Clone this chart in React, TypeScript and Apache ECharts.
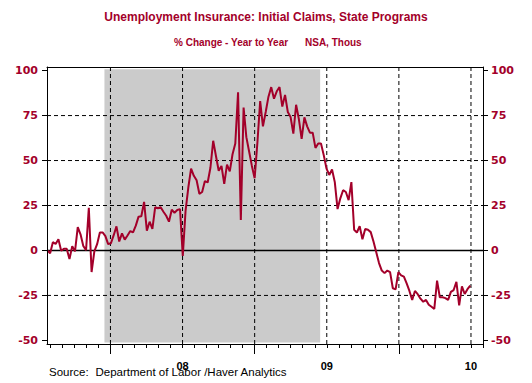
import React, { useEffect, useRef } from "react";
import * as echarts from "echarts";

// x is measured in months after 1 Jan 2007 (12 = Jan 2008, 24 = Jan 2009, 36 = Jan 2010)
const FIRST_WEEK = 6.75; // first weekly observation, late July 2007
const WEEK = 7 / 30.4375; // one week, in months

// Initial claims, state programs, NSA: % change year to year (weekly)
const claimsYoY: number[] = [
  0, -1.5, 4.6, 3.6, 6.2, -0.2, 1, 1, -4.8, 2.4,
  -0.5, 13, 9, 2.5, 0.2, 23.7, -12, -0.5, 3.5, 10,
  10, 8, 3.5, 4, 8.5, 13.4, 5, 9.5, 6, 8.3,
  10.8, 10, 13.8, 18.8, 19, 27, 11, 16, 12, 24,
  23.5, 24, 21.5, 19.3, 16, 22.6, 21, 22.5, 23, -3,
  22, 35, 45.5, 41.5, 39, 31.5, 32.5, 38.6, 37.8, 46,
  61, 52.5, 44.3, 47, 37, 47.7, 44, 53.5, 59.5, 88,
  17, 79.5, 63, 55, 47, 40.2, 60, 83, 69, 77,
  85.5, 90.8, 84.4, 88.5, 90.8, 80, 86.5, 77, 74.2, 65,
  81, 73, 62, 74, 69, 65.5, 65.5, 57, 59.5, 59.5,
  53, 45.5, 42, 45, 38, 23, 29, 33.5, 32.5, 28,
  38, 11.5, 10, 13.5, 6.2, 12, 11.5, 10.2, 5, -1,
  -7, -11.2, -12.6, -11.2, -12, -21, -21.6, -12, -13.8, -14.5,
  -18.3, -22.5, -27.5, -22.5, -24.3, -26.8, -28.5, -27.5, -30.2, -31.3,
  -32.5, -16.8, -26, -26, -26.5, -27.5, -23, -22, -17.5, -30.5,
  -20, -24.2, -21.5, -19.5,
];

const X_MIN = 6.72;
const X_MAX = 43;
const Y_MIN = -52;
const Y_MAX = 102;

const yTickValues = [-50, -25, 0, 25, 50, 75, 100];
const yDashed = [-25, 25, 50, 75];
const xDashed = [12, 18, 24, 30, 36, 42];
const monthTicks = [
  7, 8, 9, 10, 11, 12, 13, 14, 15, 16, 17, 18, 19, 20, 21, 22, 23, 24, 25,
  26, 27, 28, 29, 30, 31, 32, 33, 34, 35, 36, 37, 38, 39, 40, 41, 42, 43,
];
const yearTicks = [12, 24, 36];
const yearLabelAt = [18, 30, 42];
const yearLabels = ["08", "09", "10"];
const recession = [11.5, 29.45]; // Dec 2007 - Jun 2009

const CRIMSON = "#a3002a";

export default function App() {
  const ref = useRef<HTMLDivElement>(null);

  useEffect(() => {
    if (!ref.current) return;
    const chart = echarts.init(ref.current, undefined, { renderer: "svg" });

    const gridBox = { left: 47, right: 49, top: 67, bottom: 39, containLabel: false };
    const black = { color: "#000", width: 1 };

    const dashedSeries: any[] = [];
    yDashed.forEach((v) =>
      dashedSeries.push({
        type: "line",
        xAxisIndex: 0,
        yAxisIndex: 0,
        data: [
          [X_MIN, v],
          [X_MAX, v],
        ],
        symbol: "none",
        silent: true,
        z: 2,
        lineStyle: { color: "#000", width: 1, type: [4, 3] },
      })
    );
    xDashed.forEach((m) =>
      dashedSeries.push({
        type: "line",
        xAxisIndex: 0,
        yAxisIndex: 0,
        data: [
          [m, Y_MIN],
          [m, Y_MAX],
        ],
        symbol: "none",
        silent: true,
        z: 2,
        lineStyle: { color: "#000", width: 1, type: [4, 3] },
      })
    );

    const option: any = {
      animation: false,
      backgroundColor: "#fff",
      grid: [gridBox, { ...gridBox }],
      xAxis: [
        {
          gridIndex: 0,
          type: "value",
          min: X_MIN,
          max: X_MAX,
          position: "bottom",
          z: 10,
          axisLine: { show: true, onZero: false, lineStyle: black },
          axisTick: { show: true, customValues: monthTicks, length: 4, lineStyle: black },
          axisLabel: {
            show: true,
            customValues: yearLabelAt,
            formatter: (v: number) => {
              const k = yearLabelAt.findIndex((a) => Math.abs(a - v) < 0.01);
              return k >= 0 ? yearLabels[k] : "";
            },
            margin: 16,
            color: "#000",
            fontFamily: "Liberation Sans",
            fontWeight: "bold",
            fontSize: 11,
          },
          splitLine: { show: false },
        },
        {
          gridIndex: 0,
          type: "value",
          min: X_MIN,
          max: X_MAX,
          position: "top",
          z: 10,
          axisLine: { show: true, onZero: false, lineStyle: black },
          axisTick: { show: false },
          axisLabel: { show: false },
          splitLine: { show: false },
        },
        {
          gridIndex: 1,
          type: "value",
          min: X_MIN,
          max: X_MAX,
          position: "bottom",
          z: 10,
          axisLine: { show: false, onZero: false },
          axisTick: { show: true, customValues: yearTicks, length: 10, lineStyle: black },
          axisLabel: { show: false },
          splitLine: { show: false },
        },
      ],
      yAxis: [
        {
          gridIndex: 0,
          type: "value",
          min: Y_MIN,
          max: Y_MAX,
          position: "left",
          z: 10,
          axisLine: { show: true, onZero: false, lineStyle: black },
          axisTick: { show: true, customValues: yTickValues, length: 5, lineStyle: black },
          axisLabel: {
            show: true,
            customValues: yTickValues,
            margin: 9,
            color: CRIMSON,
            fontFamily: "DejaVu Sans",
            fontWeight: "bold",
            fontSize: 11,
          },
          splitLine: { show: false },
        },
        {
          gridIndex: 0,
          type: "value",
          min: Y_MIN,
          max: Y_MAX,
          position: "right",
          z: 10,
          axisLine: { show: true, onZero: false, lineStyle: black },
          axisTick: { show: true, customValues: yTickValues, length: 5, lineStyle: black },
          axisLabel: {
            show: true,
            customValues: yTickValues,
            margin: 8,
            color: CRIMSON,
            fontFamily: "DejaVu Sans",
            fontWeight: "bold",
            fontSize: 11,
          },
          splitLine: { show: false },
        },
        {
          gridIndex: 1,
          type: "value",
          min: Y_MIN,
          max: Y_MAX,
          show: false,
          splitLine: { show: false },
        },
      ],
      graphic: [
        {
          type: "text",
          x: 266,
          y: 16.5,
          style: {
            text: "Unemployment Insurance: Initial Claims, State Programs",
            font: 'bold 12px "Liberation Sans"',
            fill: CRIMSON,
            align: "center",
            verticalAlign: "middle",
          },
        },
        {
          type: "text",
          x: 174,
          y: 42.3,
          style: {
            text: "% Change - Year to Year",
            font: 'bold 10px "Liberation Sans"',
            fill: CRIMSON,
            align: "left",
            verticalAlign: "middle",
          },
        },
        {
          type: "text",
          x: 305,
          y: 42.3,
          style: {
            text: "NSA, Thous",
            font: 'bold 10px "Liberation Sans"',
            fill: CRIMSON,
            align: "left",
            verticalAlign: "middle",
          },
        },
        {
          type: "text",
          x: 49,
          y: 371.5,
          style: {
            text: "Source:",
            font: '11.5px "Liberation Sans"',
            fill: "#000",
            align: "left",
            verticalAlign: "middle",
          },
        },
        {
          type: "text",
          x: 95.5,
          y: 371.5,
          style: {
            text: "Department of Labor /Haver Analytics",
            font: '11.5px "Liberation Sans"',
            fill: "#000",
            align: "left",
            verticalAlign: "middle",
          },
        },
      ],
      series: [
        {
          type: "line",
          xAxisIndex: 0,
          yAxisIndex: 0,
          data: [],
          silent: true,
          z: 1,
          markArea: {
            silent: true,
            itemStyle: { color: "#cbcbcb" },
            label: { show: false },
            data: [
              [
                { xAxis: recession[0], yAxis: -51.2 },
                { xAxis: recession[1], yAxis: 100.8 },
              ],
            ],
          },
        },
        ...dashedSeries,
        {
          type: "line",
          xAxisIndex: 0,
          yAxisIndex: 0,
          data: [
            [X_MIN, 0],
            [X_MAX, 0],
          ],
          symbol: "none",
          silent: true,
          z: 3,
          lineStyle: { color: "#000", width: 1.5 },
        },
        {
          type: "line",
          xAxisIndex: 0,
          yAxisIndex: 0,
          data: claimsYoY.map((v, i) => [FIRST_WEEK + i * WEEK, v]),
          symbol: "none",
          silent: true,
          z: 4,
          lineStyle: { color: CRIMSON, width: 2 },
        },
        {
          type: "line",
          xAxisIndex: 2,
          yAxisIndex: 2,
          data: [],
          silent: true,
        },
      ],
    };

    chart.setOption(option);
    return () => chart.dispose();
  }, []);

  return (
    <div
      ref={ref}
      style={{ position: "absolute", left: 0, top: 0, width: 532, height: 383 }}
    />
  );
}
